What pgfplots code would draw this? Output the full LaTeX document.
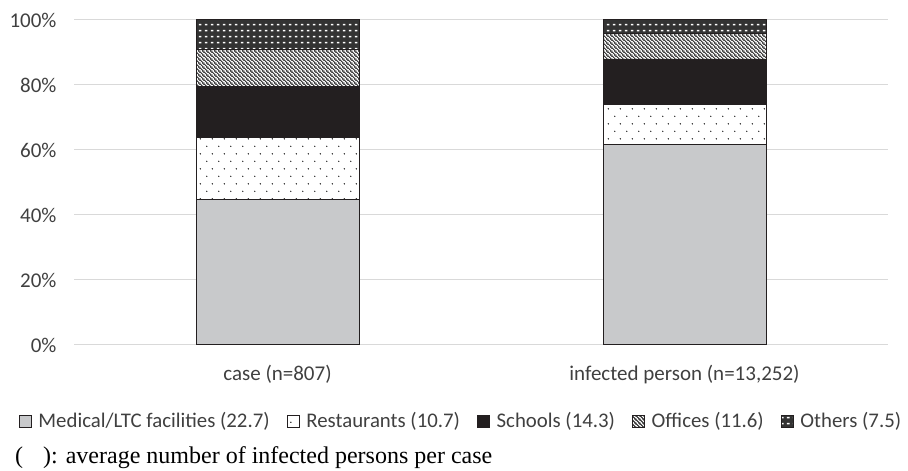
\documentclass[border=0pt]{standalone}
\usepackage{fontspec}
\setmainfont{Carlito}
\newfontfamily\capfont{Liberation Serif}
\usepackage{pgfplots}
\pgfplotsset{compat=1.18}
\usetikzlibrary{patterns.meta}

\pgfdeclarepattern{name=rdots, type=uncolored,
  bottom left={\pgfpoint{0pt}{0pt}}, top right={\pgfpoint{12pt}{15.4pt}},
  tile size={\pgfpoint{12pt}{15.4pt}},
  code={\pgfpathcircle{\pgfpoint{3pt}{3.85pt}}{0.75pt}\pgfpathcircle{\pgfpoint{9pt}{11.55pt}}{0.75pt}\pgfusepath{fill}}}
\pgfdeclarepattern{name=nwl, type=uncolored,
  bottom left={\pgfpoint{0pt}{0pt}}, top right={\pgfpoint{4pt}{4pt}},
  tile size={\pgfpoint{4pt}{4pt}},
  code={\pgfsetlinewidth{1.1pt}%
    \pgfpathmoveto{\pgfpoint{-1pt}{5pt}}\pgfpathlineto{\pgfpoint{5pt}{-1pt}}%
    \pgfpathmoveto{\pgfpoint{-1pt}{1pt}}\pgfpathlineto{\pgfpoint{1pt}{-1pt}}%
    \pgfpathmoveto{\pgfpoint{3pt}{5pt}}\pgfpathlineto{\pgfpoint{5pt}{3pt}}%
    \pgfusepath{stroke}}}
\pgfdeclarepattern{name=odash, type=uncolored,
  bottom left={\pgfpoint{0pt}{0pt}}, top right={\pgfpoint{6pt}{5.6pt}},
  tile size={\pgfpoint{6pt}{5.6pt}},
  code={\pgfpathrectangle{\pgfpoint{1pt}{1.8pt}}{\pgfpoint{3pt}{1.6pt}}\pgfusepath{fill}}}

\definecolor{medgray}{RGB}{200,201,203}
\definecolor{schblack}{RGB}{35,31,32}
\definecolor{gridc}{RGB}{217,217,217}
\definecolor{txt}{RGB}{64,64,64}

\begin{document}
\begin{tikzpicture}
\useasboundingbox (0,0) rectangle (908pt,471pt);
\begin{axis}[
  at={(74pt,126pt)}, anchor=south west,
  scale only axis, width=814pt, height=325pt,
  ybar stacked, bar width=163pt,
  xmin=-0.5, xmax=1.5, ymin=0, ymax=100,
  xtick={0,1},
  xticklabels={case (n=807), infected person (n=13{,}252)},
  ytick={0,20,...,100},
  yticklabel={\pgfmathprintnumber{\tick}\%},
  /pgf/number format/assume math mode=true,
  axis line style={draw=none},
  major tick length=0pt,
  ymajorgrids, grid style={draw=gridc, line width=1pt},
  tick label style={font=\fontsize{21}{25}\selectfont, text=txt},
  yticklabel style={xshift=-14pt},
  xticklabel style={yshift=-17pt},
  legend columns=5,
  legend style={at={(rel axis cs:0.476,-0.234)}, anchor=center, draw=none,
    font=\fontsize{20.8}{25}\selectfont, text=txt,
    /tikz/every odd column/.append style={column sep=4pt},
    /tikz/every even column/.append style={column sep=14pt},
    nodes={inner xsep=3pt}},
  legend image code/.code={\draw[#1,line width=0.7pt] (0pt,-6pt) rectangle (12pt,6pt);},
]
\addplot[draw=schblack, line width=1pt, fill=medgray] coordinates {(0,44.9) (1,61.7)};
\addplot[draw=schblack, line width=1pt, fill=white, postaction={pattern=rdots, pattern color=black}] coordinates {(0,18.9) (1,12.4)};
\addplot[draw=schblack, line width=1pt, fill=schblack] coordinates {(0,15.7) (1,13.6)};
\addplot[draw=schblack, line width=1pt, fill=white, postaction={pattern=nwl, pattern color=black!85}] coordinates {(0,11.4) (1,8.2)};
\addplot[draw=schblack, line width=1pt, fill=black!80, postaction={pattern=odash, pattern color=white}] coordinates {(0,9.1) (1,4.1)};
\legend{Medical/LTC facilities (22.7), Restaurants (10.7), Schools (14.3), Offices (11.6), Others (7.5)}
\end{axis}
\node[anchor=base west, inner sep=0pt, font=\capfont\fontsize{24}{28}\selectfont] at (15pt,7pt) {(\hspace{20pt}): average number of infected persons per case};
\end{tikzpicture}
\end{document}
